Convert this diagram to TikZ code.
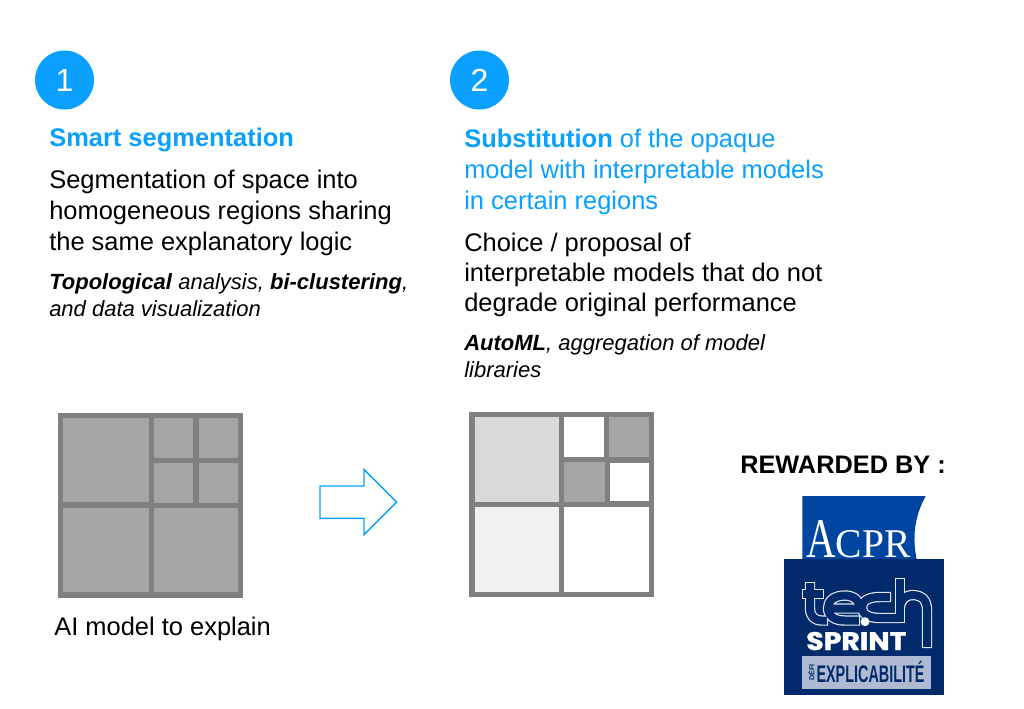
\documentclass[tikz,border=0pt]{standalone}
\usepackage{fontspec}
\setmainfont{Liberation Sans}
\newfontfamily\serifacpr{Liberation Serif}
\newfontfamily\heavyfont{Poppins}[BoldFont={Poppins Bold},BoldFeatures={FakeBold=1.5}]
\definecolor{skyb}{HTML}{0AA0FF}
\definecolor{gridline}{HTML}{808080}
\definecolor{cellmid}{HTML}{A5A5A5}
\definecolor{celllight}{HTML}{D9D9D9}
\definecolor{cellpale}{HTML}{F2F2F2}
\definecolor{acprblue}{HTML}{0046A0}
\definecolor{navy}{HTML}{012A6B}
\definecolor{badge}{HTML}{AEBBD2}
\tikzset{
  x=0.75pt,y=-0.75pt,
  badgecircle/.style={circle,fill=skyb,text=white,minimum size=44.25pt,inner sep=0pt,font=\fontsize{24}{24}\selectfont},
  para/.style={anchor=north west,inner sep=0pt,align=left,text=black,font=\fontsize{19.1}{23.25}\selectfont},
  heading/.style={para,text=skyb},
  small/.style={anchor=north west,inner sep=0pt,align=left,text=black,font=\fontsize{16.5}{20.2}\selectfont},
  techline/.style={line width=7.8pt,draw=white!88!navy,line cap=butt,line join=round},
  techfill/.style={line width=6pt,draw=navy,line cap=butt,line join=round,shorten >=0.9pt,shorten <=0.9pt},
}
\newcommand{\techletters}[1]{
  \draw[#1] (810,582) -- (810,608) .. controls (810,616) and (814,620.5) .. (822,620.5) -- (828,620.5);
  \draw[#1] (802,594) -- (824,594);
  \draw[#1] (828,608.5) -- (860,608.5) .. controls (860,600) and (853,595.5) .. (845,595.5) .. controls (834,595.5) and (828,601) .. (828,608) .. controls (828,616) and (834,620.5) .. (845,620.5) -- (860,620.5);
  \draw[#1] (891,597) -- (880,597) .. controls (868,597) and (862,601) .. (862,607.5) .. controls (862,614) and (868,618) .. (880,618) -- (900,618);
  \draw[#1] (900,578) -- (900,623);
  \draw[#1] (900,608) .. controls (900,600) and (906,595) .. (912,595) .. controls (922,595) and (927,600) .. (927,610) -- (927,648);
}
\begin{document}
\begin{tikzpicture}
\useasboundingbox (0,0) rectangle (1024,708);
\fill[white] (0,0) rectangle (1024,708);

\node[badgecircle] (n1) at (64.5,80) {1};
\node[badgecircle] (n2) at (479.5,80) {2};

\node[heading,font=\fontsize{19.1}{23.25}\selectfont\bfseries] (h1) at (49,128) {Smart segmentation};
\node[para] (p1) at (49,170) {Segmentation of space into\\homogeneous regions sharing\\the same explanatory logic};
\node[small] (s1) at (49,273) {\textbf{\textit{Topological}} \textit{analysis,} \textbf{\textit{bi-clustering}}\textit{,}\\\textit{and data visualization}};

\node[heading] (h2) at (464,129) {\textbf{Substitution} of the opaque\\model with interpretable models\\in certain regions};
\node[para,font=\fontsize{19.1}{22.3}\selectfont] (p2) at (464,233) {Choice / proposal of\\interpretable models that do not\\degrade original performance};
\node[small] (s2) at (464,334) {\textbf{\textit{AutoML}}\textit{, aggregation of model}\\\textit{libraries}};

% left grid
\fill[gridline] (58,412.5) rectangle (243.3,598);
\foreach \a/\b/\c/\d in {63.3/418/148.7/502.3,154/418/193.3/457.7,198.7/418/238.3/457.7,154/463.3/193.3/503.3,198.7/463.3/238.3/503.3,63.3/508.3/148.7/592.3,154/508.3/238.3/592.3}
  \fill[cellmid] (\a,\b) rectangle (\c,\d);
\node[para] (cap) at (54,617) {AI model to explain};

% arrow
\draw[skyb,line width=1.1pt,fill=white,line join=miter] (320,486) -- (364,486) -- (364,469.5) -- (396.7,502) -- (364,534.5) -- (364,518.3) -- (320,518.3) -- cycle;

% right grid
\fill[gridline] (469.3,412.3) rectangle (654,597.3);
\fill[celllight] (475,417.3) rectangle (559.3,501.7);
\fill[white] (564.3,417.3) rectangle (604,456.7);
\fill[cellmid] (609.3,417.3) rectangle (648.7,457);
\fill[cellmid] (564.3,462.3) rectangle (604.7,502);
\fill[white] (610.3,463) rectangle (648.7,501.3);
\fill[cellpale] (475,507) rectangle (559.3,591.7);
\fill[white] (564.3,507) rectangle (648.7,591.7);

\node[anchor=base west,inner sep=0pt,font=\fontsize{19}{20}\selectfont\bfseries] (rw) at (740,473) {REWARDED BY :};

% logo
\fill[acprblue] (802.3,496) -- (925.7,496) .. controls (917,512) and (911,532) .. (916.7,559.5) -- (802.3,559.5) -- cycle;
\node[anchor=base west,inner sep=0pt,text=white,font=\serifacpr\fontsize{42}{42}\selectfont] (acpr) at (806,557.5) {\scalebox{0.73}[1]{A}\fontsize{30.6}{30.6}\selectfont\scalebox{0.97}[1]{CPR}};
\fill[navy] (784.3,559.3) rectangle (944.3,695.3);
\techletters{techline}
\techletters{techfill}
\fill[white] (865,621.7) circle (4.5);
\node[anchor=base west,inner sep=0pt,text=white,font=\heavyfont\bfseries\fontsize{19}{19}\selectfont] (sprint) at (806,650) {\scalebox{1.12}[1]{SPRINT}};
\fill[badge] (801.7,655.7) rectangle (931,689.3);
\node[rotate=90,inner sep=0pt,text=navy,font=\bfseries\fontsize{5.5}{5.5}\selectfont] (defi) at (811,672.5) {DÉFI};
\node[inner sep=0pt,text=navy,font=\bfseries\fontsize{15}{15}\selectfont] (expl) at (870.5,671.5) {\scalebox{0.72}[1.2]{EXPLICABILITÉ}};
\end{tikzpicture}
\end{document}
